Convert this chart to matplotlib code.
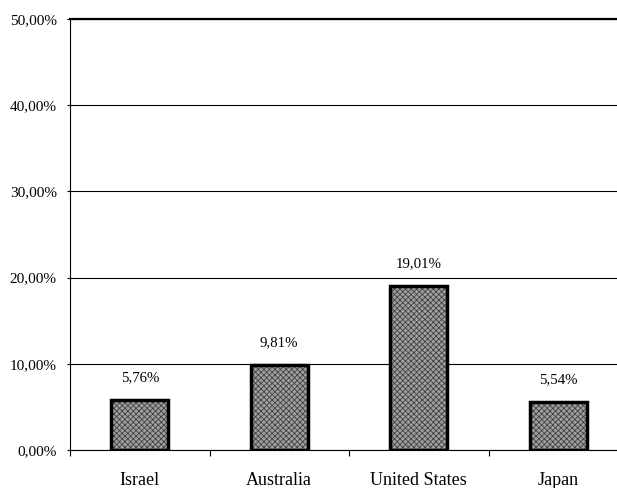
import numpy as np
import matplotlib.pyplot as plt

countries = ['Israel', 'Australia', 'United States', 'Japan']
shares = [5.76, 9.81, 19.01, 5.54]
y_ticks = [0, 10, 20, 30, 40, 50]

plt.rcParams['font.family'] = ['Liberation Serif', 'DejaVu Serif']
plt.rcParams['hatch.linewidth'] = 0.6

fig = plt.figure(figsize=(6.17, 4.88), dpi=100)
ax = fig.add_axes([70/617, 38/488, 558/617, 431/488])

x = np.arange(len(countries))
# patterned fill, then a heavy black outline on top
ax.bar(x, shares, width=0.41, color='#a0a0a0', hatch='xxxxxx',
       edgecolor='#404040', linewidth=0, zorder=3)
ax.bar(x, shares, width=0.41, fill=False, edgecolor='black',
       linewidth=2.5, zorder=4)

for xi, v in zip(x, shares):
    ax.text(xi, v + 1.9, f'{v:.2f}%'.replace('.', ','), ha='center',
            va='bottom', fontsize=10.7)

ax.set_xlim(-0.5, 3.5)
ax.set_ylim(0, 50)
ax.set_yticks(y_ticks)
ax.set_yticklabels([f'{t:.2f}%'.replace('.', ',') for t in y_ticks], fontsize=11)
ax.yaxis.grid(True, color='black', linewidth=0.8, zorder=0)
ax.set_axisbelow(True)

ax.set_xticks(x)
ax.set_xticklabels(countries, fontsize=13)
ax.tick_params(axis='x', length=0, pad=16)
ax.set_xticks(np.arange(-0.5, 4, 1), minor=True)
ax.tick_params(axis='x', which='minor', length=4, direction='out', width=0.8)
ax.tick_params(axis='y', length=2.5, width=0.8, pad=7)

for s in ['right', 'top']:
    ax.spines[s].set_visible(False)
ax.spines['left'].set_linewidth(0.8)
ax.spines['bottom'].set_linewidth(0.8)
ax.axhline(50, color='black', linewidth=1.6, clip_on=False)

fig.savefig('out.png', dpi=100)
